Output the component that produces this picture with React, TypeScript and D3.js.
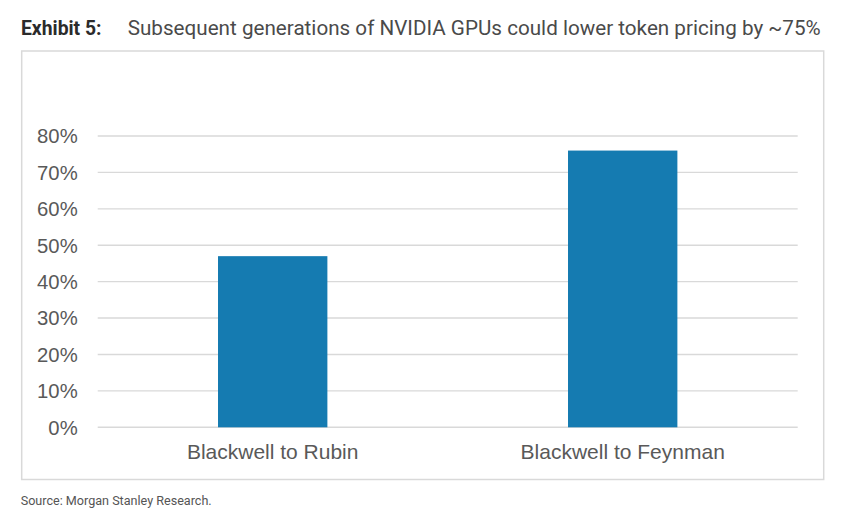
import React from "react";
import * as d3 from "d3";

const categories: string[] = ["Blackwell to Rubin", "Blackwell to Feynman"];
const values: number[] = [0.47, 0.76];
const yTicks: number[] = [0, 0.1, 0.2, 0.3, 0.4, 0.5, 0.6, 0.7, 0.8];
const titleBold = "Exhibit 5:";
const titleText = "Subsequent generations of NVIDIA GPUs could lower token pricing by ~75%";
const sourceText = "Source: Morgan Stanley Research.";

const W = 865;
const H = 528;
const plotLeft = 97.7;
const plotRight = 797.7;
const plotTop = 136;
const plotBottom = 427.3;

export default function App() {
  const x = d3
    .scaleBand<string>()
    .domain(categories)
    .range([plotLeft, plotRight])
    .paddingInner(0.6875)
    .paddingOuter(0.34375);
  const y = d3.scaleLinear().domain([0, 0.8]).range([plotBottom, plotTop]);
  const fmt = d3.format(".0%");
  const textColor = "#595959";

  return (
    <svg
      width={W}
      height={H}
      viewBox={`0 0 ${W} ${H}`}
      style={{ position: "absolute", left: 0, top: 0, background: "#fff" }}
    >
      <rect x={0} y={0} width={W} height={H} fill="#fff" />
      {/* title */}
      <text
        x={21}
        y={34.8}
        fontFamily="Roboto, 'Liberation Sans', sans-serif"
        fontSize={20}
        fontWeight={700}
        fill="#2b2b2b"
        textLength={80.5}
        lengthAdjust="spacingAndGlyphs"
      >
        {titleBold}
      </text>
      <text
        x={127.7}
        y={34.8}
        fontFamily="Roboto, 'Liberation Sans', sans-serif"
        fontSize={20}
        fill="#4a4a4a"
        textLength={693}
        lengthAdjust="spacingAndGlyphs"
      >
        {titleText}
      </text>
      {/* frame */}
      <rect
        x={21.7}
        y={51}
        width={802}
        height={428.5}
        fill="none"
        stroke="#d9d9d9"
        strokeWidth={1.5}
      />
      {/* gridlines */}
      {yTicks.map((t) => (
        <line
          key={"g" + t}
          x1={plotLeft}
          x2={plotRight}
          y1={y(t)}
          y2={y(t)}
          stroke="#d9d9d9"
          strokeWidth={1.4}
        />
      ))}
      {/* y tick labels */}
      {yTicks.map((t) => (
        <text
          key={"t" + t}
          x={77.7}
          y={y(t) + 7.3}
          textAnchor="end"
          fontFamily="'Liberation Sans', Arial, sans-serif"
          fontSize={20.3}
          fill={textColor}
        >
          {fmt(t)}
        </text>
      ))}
      {/* bars */}
      {categories.map((c, i) => (
        <rect
          key={c}
          x={x(c)}
          y={y(values[i])}
          width={x.bandwidth()}
          height={plotBottom - y(values[i])}
          fill="#157bb1"
        />
      ))}
      {/* category labels */}
      {categories.map((c) => (
        <text
          key={"c" + c}
          x={(x(c) as number) + x.bandwidth() / 2}
          y={459.3}
          textAnchor="middle"
          fontFamily="'Liberation Sans', Arial, sans-serif"
          fontSize={21}
          fill={textColor}
        >
          {c}
        </text>
      ))}
      {/* source */}
      <text
        x={20.7}
        y={505}
        fontFamily="Roboto, 'Liberation Sans', sans-serif"
        fontSize={12}
        fill="#555"
        textLength={191}
        lengthAdjust="spacingAndGlyphs"
      >
        {sourceText}
      </text>
    </svg>
  );
}
